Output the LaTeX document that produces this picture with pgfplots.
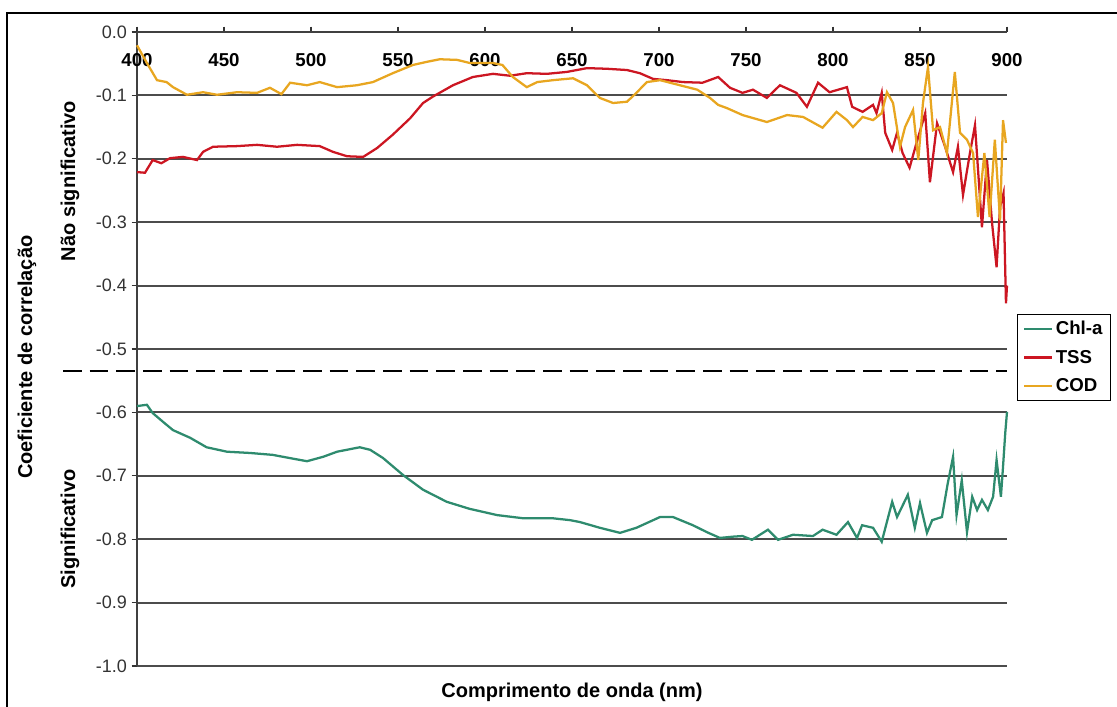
\documentclass[border=0pt]{standalone}
\usepackage{fontspec}
\setmainfont{Liberation Sans}
\usepackage{pgfplots}
\pgfplotsset{compat=1.18}
\definecolor{chla}{RGB}{46,139,110}
\definecolor{tss}{RGB}{204,22,34}
\definecolor{cod}{RGB}{232,166,32}
\begin{document}
\begin{tikzpicture}
\begin{axis}[
  width=652.5pt, height=475.5pt, scale only axis,
  xmin=400, xmax=900, ymin=-1, ymax=0,
  axis x line=top, axis y line=left,
  axis line style={-, draw=black!75, line width=1.4pt},
  xtick={400,450,500,550,600,650,700,750,800,850,900},
  xticklabels={400,450,500,550,600,650,700,750,800,850,900},
  xticklabel style={font=\bfseries\fontsize{14}{16}\selectfont, anchor=north, yshift=-16.5pt},
  ytick={-1,-0.9,-0.8,-0.7,-0.6,-0.5,-0.4,-0.3,-0.2,-0.1,0},
  yticklabels={-1.0,-0.9,-0.8,-0.7,-0.6,-0.5,-0.4,-0.3,-0.2,-0.1,0.0},
  yticklabel style={font=\fontsize{13.5}{15}\selectfont, text=black!80},
  tick align=outside, major tick length=4pt,
  tick style={black!80, line width=1pt},
  ymajorgrids, grid style={draw=black!70, line width=1.4pt},
  clip=false,
  legend image code/.code={\draw[#1] (0pt,0pt) -- (21pt,0pt);},
  legend style={at={(axis description cs:1.0115,0.5552)}, anchor=north west,
    draw=black, line width=0.8pt, fill=white,
    font=\bfseries\fontsize{14}{16}\selectfont,
    inner xsep=4pt, inner ysep=3pt, row sep=6pt},
  legend cell align=left,
]
\addplot[chla, line width=1.7pt] coordinates {
(400,-0.590) (405.7,-0.588) (409,-0.601) (415,-0.615) (420.7,-0.628) (430.5,-0.640) (440,-0.655) (451.7,-0.662) (465,-0.664) (478,-0.667) (489.7,-0.673) (497.7,-0.677) (507,-0.670) (515,-0.662) (528,-0.655) (534,-0.659) (541.4,-0.672) (553,-0.699) (564.4,-0.722) (578,-0.741) (591,-0.752) (607,-0.762) (622,-0.767) (639,-0.767) (649,-0.770) (654.6,-0.773) (666,-0.782) (677.6,-0.790) (687,-0.782) (700.6,-0.765) (708,-0.765) (719.5,-0.778) (727.6,-0.789) (735,-0.798) (742.5,-0.796) (748,-0.795) (753.4,-0.801) (762.6,-0.785) (768.4,-0.801) (777,-0.793) (788.5,-0.795) (794,-0.785) (802,-0.793) (808.6,-0.773) (813.8,-0.798) (816.7,-0.778) (823,-0.782) (828,-0.804) (834,-0.741) (836.8,-0.765) (843,-0.730) (847,-0.782) (850,-0.743) (854,-0.790) (857,-0.770) (862.6,-0.765) (866,-0.711) (869,-0.670) (871,-0.762) (874,-0.707) (877,-0.789) (880,-0.733) (882.8,-0.754) (885.6,-0.738) (889,-0.754) (892,-0.733) (894,-0.675) (896.5,-0.733) (897.7,-0.686) (899,-0.632) (900,-0.599)
};
\addlegendentry{Chl-a}
\addplot[tss, line width=1.7pt] coordinates {
(400,-0.221) (404.6,-0.222) (409,-0.202) (414,-0.207) (419,-0.199) (426.4,-0.197) (434.5,-0.202) (438,-0.189) (443.7,-0.181) (457.5,-0.180) (469,-0.178) (480.5,-0.181) (492,-0.178) (505,-0.180) (512.6,-0.189) (520.7,-0.196) (530,-0.197) (538,-0.183) (547,-0.162) (557,-0.136) (564.4,-0.112) (570,-0.102) (581.6,-0.084) (593,-0.071) (604.6,-0.066) (614.4,-0.069) (624,-0.065) (635.6,-0.066) (647,-0.063) (658.6,-0.057) (670,-0.058) (681.6,-0.060) (689,-0.065) (696.6,-0.074) (704.6,-0.076) (713.8,-0.079) (725,-0.080) (734,-0.071) (740.8,-0.088) (748,-0.096) (754,-0.091) (762,-0.104) (769.5,-0.084) (779,-0.096) (785,-0.118) (791.4,-0.080) (798,-0.095) (808,-0.087) (811,-0.118) (817,-0.126) (823,-0.115) (825,-0.128) (828,-0.096) (830,-0.159) (834,-0.186) (836.8,-0.159) (840,-0.191) (844,-0.214) (848,-0.175) (853,-0.128) (855.7,-0.237) (859.8,-0.144) (864.4,-0.181) (869,-0.221) (871.8,-0.181) (874.7,-0.257) (878.7,-0.191) (881.6,-0.147) (885.6,-0.308) (888.5,-0.202) (891.4,-0.301) (894,-0.371) (896,-0.276) (898,-0.254) (899.4,-0.428) (900,-0.400)
};
\addlegendentry{TSS}
\addplot[cod, line width=1.7pt] coordinates {
(400,-0.021) (405.7,-0.049) (411.5,-0.076) (417,-0.079) (420.7,-0.087) (428.7,-0.099) (438,-0.095) (446,-0.099) (457.5,-0.095) (469,-0.096) (476.4,-0.088) (483,-0.098) (488,-0.080) (497.7,-0.084) (505,-0.079) (515,-0.087) (526.4,-0.084) (535.6,-0.079) (547,-0.065) (558.6,-0.052) (566.7,-0.047) (574,-0.043) (584,-0.044) (591.4,-0.049) (604.6,-0.049) (610,-0.052) (616,-0.071) (624,-0.087) (630,-0.079) (639,-0.076) (650.6,-0.073) (658.6,-0.084) (666,-0.104) (673.6,-0.112) (681.6,-0.110) (687,-0.096) (693,-0.079) (700.6,-0.076) (712,-0.084) (722,-0.091) (729.3,-0.104) (734,-0.115) (739,-0.120) (748,-0.131) (762,-0.142) (773.6,-0.131) (782.8,-0.134) (794,-0.151) (802,-0.126) (808,-0.139) (811.5,-0.150) (817,-0.134) (823,-0.139) (828,-0.128) (831,-0.095) (834.5,-0.112) (838.5,-0.181) (841.4,-0.150) (846,-0.123) (849,-0.202) (851.7,-0.112) (854.6,-0.055) (857.5,-0.155) (861.5,-0.150) (865.5,-0.191) (870,-0.063) (873,-0.159) (877,-0.170) (880.5,-0.191) (883.3,-0.292) (887,-0.191) (890,-0.292) (893,-0.170) (896,-0.297) (897.7,-0.139) (899.4,-0.175)
};
\addlegendentry{COD}
\addplot[black, line width=1.8pt, dash pattern=on 14pt off 6pt, forget plot] coordinates {(357.5,-0.535) (900,-0.535)};
\node[font=\bfseries\fontsize{15}{17}\selectfont, rotate=90] at (axis description cs:-0.1264,0.487) {Coeficiente de correlação};
\node[font=\bfseries\fontsize{15}{17}\selectfont, rotate=90] at (axis description cs:-0.077,0.765) {Não significativo};
\node[font=\bfseries\fontsize{15}{17}\selectfont, rotate=90] at (axis description cs:-0.077,0.216) {Significativo};
\node[font=\bfseries\fontsize{15}{17}\selectfont] at (axis description cs:0.5,-0.041) {Comprimento de onda (nm)};
\draw[black, line width=1.2pt] (axis description cs:-0.14943,-0.2) -- (axis description cs:-0.14943,1.02997) -- (axis description cs:1.3,1.02997);
\coordinate (BL) at (axis description cs:-0.15747,-0.06309);
\coordinate (TR) at (axis description cs:1.12644,1.05047);
\end{axis}
\pgfresetboundingbox
\path[use as bounding box] (BL) rectangle (TR);
\end{tikzpicture}
\end{document}
